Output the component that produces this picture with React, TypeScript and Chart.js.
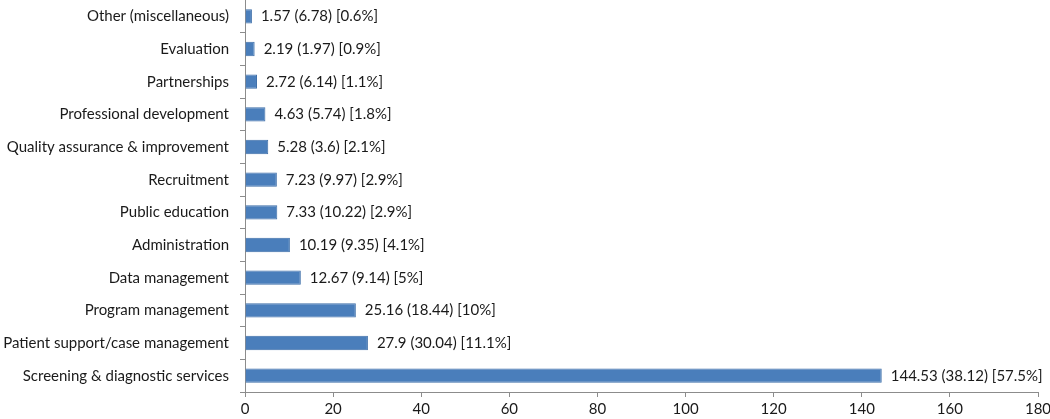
import React, { useEffect, useRef } from "react";
import { Chart, registerables } from "chart.js";

Chart.register(...registerables);

const categories = [
  "Other (miscellaneous)",
  "Evaluation",
  "Partnerships",
  "Professional development",
  "Quality assurance & improvement",
  "Recruitment",
  "Public education",
  "Administration",
  "Data management",
  "Program management",
  "Patient support/case management",
  "Screening & diagnostic services",
];
const means = [1.57, 2.19, 2.72, 4.63, 5.28, 7.23, 7.33, 10.19, 12.67, 25.16, 27.9, 144.53];
const sds = [6.78, 1.97, 6.14, 5.74, 3.6, 9.97, 10.22, 9.35, 9.14, 18.44, 30.04, 38.12];
const pcts = ["0.6", "0.9", "1.1", "1.8", "2.1", "2.9", "2.9", "4.1", "5", "10", "11.1", "57.5"];
const xTicks = [0, 20, 40, 60, 80, 100, 120, 140, 160, 180];

const FONT_FAMILY = "Lato, 'Liberation Sans', sans-serif";
const TEXT_COLOR = "#1a1a1a";
const AXIS_COLOR = "#8c8c8c";

const labelPlugin = {
  id: "barValueLabels",
  afterDatasetsDraw(chart: any) {
    const ctx = chart.ctx;
    const meta = chart.getDatasetMeta(0);
    ctx.save();
    ctx.font = `15px ${FONT_FAMILY}`;
    ctx.fillStyle = TEXT_COLOR;
    ctx.textAlign = "left";
    ctx.textBaseline = "middle";
    meta.data.forEach((el: any, i: number) => {
      const txt = `${means[i]} (${sds[i]}) [${pcts[i]}%]`;
      ctx.fillText(txt, el.x + 9, el.y);
    });
    ctx.restore();
  },
};

export default function App() {
  const ref = useRef<HTMLCanvasElement | null>(null);
  useEffect(() => {
    document.body.style.margin = "0";
    const chart = new Chart(ref.current as HTMLCanvasElement, {
      type: "bar",
      data: {
        labels: categories,
        datasets: [
          {
            data: means,
            backgroundColor: "#4a7ebb",
            borderColor: "#3d6ea8",
            borderWidth: 1,
            barPercentage: 0.44,
            categoryPercentage: 1,
          },
        ],
      },
      options: {
        indexAxis: "y",
        animation: false,
        responsive: false,
        maintainAspectRatio: false,
        layout: { padding: { left: 0, right: 12, top: 0, bottom: 0 } },
        plugins: { legend: { display: false }, tooltip: { enabled: false } },
        scales: {
          x: {
            min: 0,
            max: 180,
            afterBuildTicks: (axis: any) => {
              axis.ticks = xTicks.map((v) => ({ value: v }));
            },
            afterFit: (axis: any) => {
              axis.height = 27;
              axis.paddingLeft = 0;
              axis.paddingRight = 0;
            },
            border: { display: true, color: AXIS_COLOR, width: 1 },
            grid: {
              drawOnChartArea: false,
              drawTicks: true,
              tickLength: 5,
              color: AXIS_COLOR,
            },
            ticks: {
              color: TEXT_COLOR,
              font: { family: FONT_FAMILY, size: 15 },
              padding: 3,
              maxRotation: 0,
            },
          },
          y: {
            afterFit: (axis: any) => {
              axis.width = 245;
              axis.paddingTop = 0;
              axis.paddingBottom = 0;
            },
            border: { display: true, color: AXIS_COLOR, width: 1 },
            grid: {
              drawOnChartArea: false,
              drawTicks: true,
              tickLength: 5,
              offset: true,
              color: AXIS_COLOR,
            },
            ticks: {
              color: TEXT_COLOR,
              font: { family: FONT_FAMILY, size: 15 },
              padding: 11,
              autoSkip: false,
            },
          },
        },
      },
      plugins: [labelPlugin],
    });
    return () => chart.destroy();
  }, []);
  return (
    <div style={{ position: "absolute", left: 0, top: 0, width: 1050, height: 419, background: "#fff" }}>
      <canvas ref={ref} width={1050} height={419} style={{ width: 1050, height: 419, display: "block" }} />
    </div>
  );
}
